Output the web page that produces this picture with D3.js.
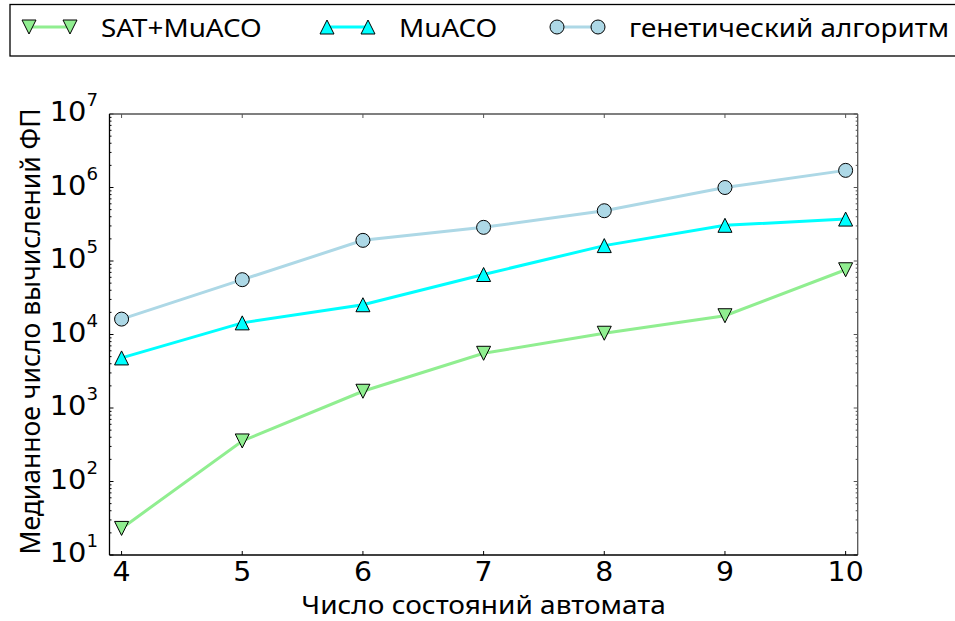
<!DOCTYPE html>
<html><head><meta charset="utf-8">
<script src="https://cdn.jsdelivr.net/npm/d3@7"></script>
<style>body{margin:0;background:#fff}svg{display:block}text{font-family:"Noto Sans",sans-serif;fill:#000}.num{font-family:"DejaVu Sans",sans-serif}</style>
</head><body><svg id="c" width="955" height="621"></svg>
<script>
const states = [4, 5, 6, 7, 8, 9, 10];
const satMuaco = [23, 356, 1690, 5550, 10400, 18000, 76000];
const muaco = [4800, 14400, 25400, 65500, 162000, 306000, 372000];
const genetic = [16200, 55700, 191000, 287000, 483000, 1000000, 1710000];
const seriesNames = ["SAT+MuACO", "MuACO", "генетический алгоритм"];
const yTickExps = [1, 2, 3, 4, 5, 6, 7];
const xTicks = [4, 5, 6, 7, 8, 9, 10];
const xLabel = "Число состояний автомата";
const yLabel = "Медианное число вычислений ФП";

const svg = d3.select("#c");
const SX = 1.07;
const L = 109.5, R = 857.7, T = 114, B = 555;
const x = d3.scaleLinear().domain([3.9, 10.1]).range([L, R]);
const y = d3.scaleLog().domain([10, 1e7]).range([B, T]);

const series = [
  {name: seriesNames[0], values: satMuaco, color: "#90ee90", marker: "down"},
  {name: seriesNames[1], values: muaco, color: "#00ffff", marker: "up"},
  {name: seriesNames[2], values: genetic, color: "#add8e6", marker: "circle"}
];
const ms = 14;
function markerPath(type) {
  const h = ms / 2;
  if (type === "up") return `M0,${-h}L${h},${h}L${-h},${h}Z`;
  if (type === "down") return `M0,${h}L${h},${-h}L${-h},${-h}Z`;
  return d3.symbol().type(d3.symbolCircle).size(Math.PI * h * h)();
}
function htext(parent, px, py, size, anchor, cls, sx) {
  return parent.append("g").attr("transform", `translate(${px},${py}) scale(${sx || SX},1)`)
    .append("text").attr("text-anchor", anchor).attr("font-size", size).attr("class", cls || null);
}

const g = svg.append("g");
const minor = [];
for (let e = 1; e < 7; e++) for (let k = 2; k <= 9; k++) minor.push(k * Math.pow(10, e));
minor.forEach(v => {
  g.append("line").attr("x1", L).attr("x2", L + 2).attr("y1", y(v)).attr("y2", y(v)).attr("stroke", "#000").attr("stroke-width", 1);
  g.append("line").attr("x1", R).attr("x2", R - 2).attr("y1", y(v)).attr("y2", y(v)).attr("stroke", "#555").attr("stroke-width", 1);
});
yTickExps.forEach(e => {
  const v = Math.pow(10, e);
  g.append("line").attr("x1", L).attr("x2", L + 4).attr("y1", y(v)).attr("y2", y(v)).attr("stroke", "#000").attr("stroke-width", 1);
  g.append("line").attr("x1", R).attr("x2", R - 4).attr("y1", y(v)).attr("y2", y(v)).attr("stroke", "#555").attr("stroke-width", 1);
  const t = htext(g, 98, y(v) + 7, 27, "end", "num");
  t.append("tspan").text("10");
  t.append("tspan").attr("dy", -15).attr("font-size", 17).text(e);
});
xTicks.forEach(v => {
  g.append("line").attr("x1", x(v)).attr("x2", x(v)).attr("y1", B).attr("y2", B - 4).attr("stroke", "#000").attr("stroke-width", 1);
  g.append("line").attr("x1", x(v)).attr("x2", x(v)).attr("y1", T).attr("y2", T + 4).attr("stroke", "#555").attr("stroke-width", 1);
  htext(g, x(v), 580.5, 26.5, "middle", "num").text(v);
});
g.append("line").attr("x1", L).attr("x2", R).attr("y1", T).attr("y2", T).attr("stroke", "#555").attr("stroke-width", 1.3);
g.append("line").attr("x1", R).attr("x2", R).attr("y1", T).attr("y2", B).attr("stroke", "#555").attr("stroke-width", 1.3);
g.append("line").attr("x1", L).attr("x2", L).attr("y1", T).attr("y2", B).attr("stroke", "#000").attr("stroke-width", 1.3);
g.append("line").attr("x1", L).attr("x2", R).attr("y1", B).attr("y2", B).attr("stroke", "#000").attr("stroke-width", 1.3);

htext(svg, (L + R) / 2, 613.5, 25, "middle", null, 1.12).text(xLabel);
svg.append("text").attr("transform", `translate(40,${(T + B) / 2 - 3}) rotate(-90)`).attr("text-anchor", "middle").attr("font-size", 26.5).text(yLabel);

const line = d3.line().x((d, i) => x(states[i])).y(d => y(d));
series.forEach(s => {
  svg.append("path").attr("d", line(s.values)).attr("fill", "none").attr("stroke", s.color).attr("stroke-width", 3);
  svg.selectAll(null).data(s.values).enter().append("path")
    .attr("transform", (d, i) => `translate(${x(states[i])},${y(d)})`)
    .attr("d", markerPath(s.marker)).attr("fill", s.color).attr("stroke", "#000").attr("stroke-width", 1);
});

const lg = svg.append("g");
lg.append("rect").attr("x", 10).attr("y", 4.5).attr("width", 960).attr("height", 51.5).attr("fill", "#fff").attr("stroke", "#000").attr("stroke-width", 1.3);
const legendX = [29, 327, 557];
series.forEach((s, i) => {
  const x0 = legendX[i], x1 = x0 + 41, ly = 27;
  lg.append("line").attr("x1", x0).attr("x2", x1).attr("y1", ly).attr("y2", ly).attr("stroke", s.color).attr("stroke-width", 3);
  [x0, x1].forEach(px => lg.append("path").attr("transform", `translate(${px},${ly})`).attr("d", markerPath(s.marker)).attr("fill", s.color).attr("stroke", "#000").attr("stroke-width", 1));
  htext(lg, x1 + 31, 36.5, 26, "start").text(s.name);
});
</script></body></html>
